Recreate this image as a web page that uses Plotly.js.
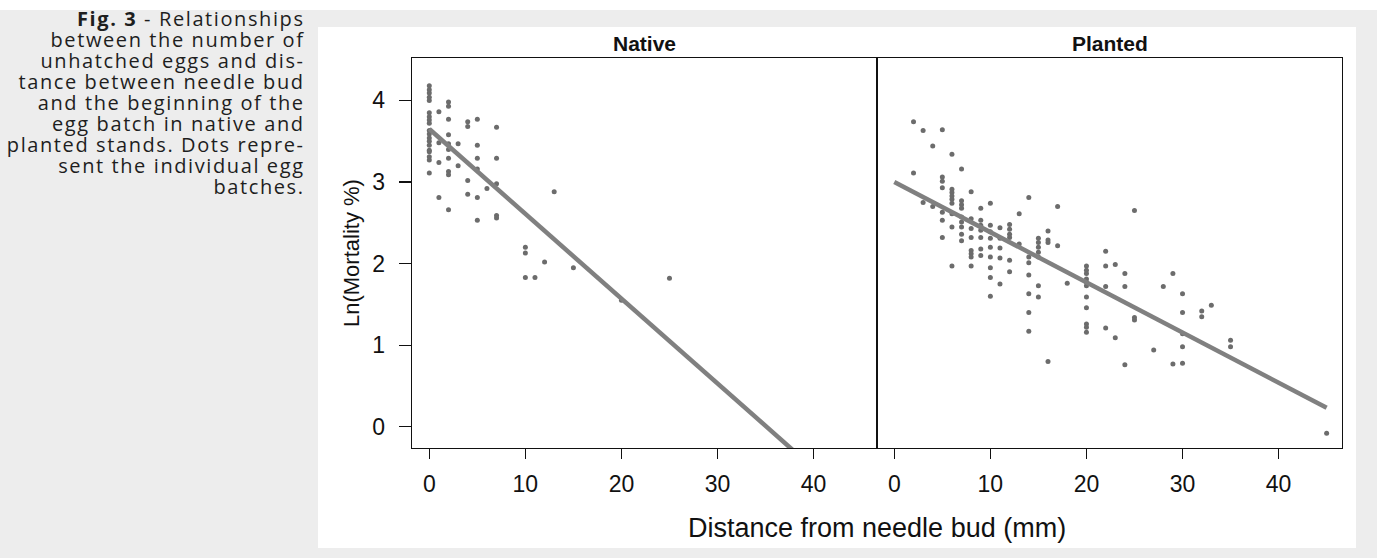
<!DOCTYPE html>
<html>
<head>
<meta charset="utf-8">
<script src="https://cdn.plot.ly/plotly-3.0.1.min.js"></script>
<style>
  html, body { margin: 0; padding: 0; }
  body { width: 1377px; height: 558px; background: #ededed; position: relative; overflow: hidden; }
  #topstrip { position: absolute; left: 0; top: 0; width: 1377px; height: 10px; background: #ffffff; }
  #caption { position: absolute; left: 0; top: 8px; width: 303px; text-align: right;
             font-family: "Open Sans", sans-serif; font-size: 20px; line-height: 21px;
             letter-spacing: 1.6px; color: #1e1e1e; }
  #caption .l { display: block; white-space: nowrap; margin-right: -1.6px; }
  #card { position: absolute; left: 318px; top: 27px; width: 1038px; height: 521px; background: #ffffff; }
  #chart { width: 1038px; height: 521px; }
</style>
</head>
<body>
<div id="topstrip"></div>
<div id="caption"><span class="l"><b>Fig. 3</b> - Relationships</span><span class="l">between the number of</span><span class="l">unhatched eggs and dis-</span><span class="l">tance between needle bud</span><span class="l">and the beginning of the</span><span class="l">egg batch in native and</span><span class="l">planted stands. Dots repre-</span><span class="l">sent the individual egg</span><span class="l">batches.</span></div>
<div id="card"><div id="chart"></div></div>
<script>
// ---- data ----
const panelNames = ["Native", "Planted"];
const xTicks = [0, 10, 20, 30, 40];
const yTicks = [0, 1, 2, 3, 4];

const nativeX = [
  0,0,0,0,0,0,0,0,0,0,0,0,0,0,0,0,0,0,0,
  1,1,1,1,
  2,2,2,2,2,2,2,2,2,2,
  3,3,
  4,4,4,4,
  5,5,5,5,5,5,
  6,
  7,7,7,7,7,
  10,10,10,
  11,12,13,15,20,25
];
const nativeY = [
  4.18,4.13,4.09,4.04,4.00,3.85,3.80,3.76,3.72,3.63,3.59,3.54,3.50,3.45,3.39,3.37,3.31,3.27,3.11,
  3.86,3.48,3.24,2.81,
  3.98,3.93,3.77,3.58,3.47,3.40,3.29,3.13,3.09,2.66,
  3.47,3.20,
  3.74,3.68,3.02,2.85,
  3.77,3.45,3.29,3.16,2.81,2.53,
  2.92,
  3.67,3.29,2.98,2.59,2.56,
  2.20,2.13,1.83,
  1.83,2.02,2.88,1.95,1.55,1.82
];

const plantedX = [
  2,2, 3,3, 4,4,
  5,5,5,5,5,5,5,
  6,6,6,6,6,6,6,6,6,
  7,7,7,7,7,7,7,7,7,
  8,8,8,8,8,8,8,8,
  9,9,9,9,9,9,9,
  10,10,10,10,10,10,10,10,10,
  11,11,11,11,11,
  12,12,12,12,12,12,
  13,13,
  14,14,14,14,14,14,14,
  15,15,15,15,15,15,15,
  16,16,16,16,
  17,17, 18,
  20,20,20,20,20,20,20,20,20,20,20,
  22,22,22,22,
  23,23,
  24,24,24,
  25,25,25,
  27, 28, 29,29,
  30,30,30,30,30,
  32,32, 33, 35,35, 45
];
const plantedY = [
  3.74,3.11, 3.63,2.75, 3.44,2.70,
  3.64,3.06,3.01,2.93,2.63,2.53,2.32,
  3.34,2.91,2.87,2.83,2.79,2.74,2.61,2.45,1.97,
  3.16,2.77,2.72,2.68,2.57,2.51,2.45,2.36,2.28,
  2.88,2.55,2.43,2.32,2.16,2.12,2.08,1.97,
  2.68,2.53,2.47,2.41,2.32,2.18,2.10,
  2.74,2.47,2.39,2.31,2.20,2.08,1.95,1.83,1.60,
  2.44,2.31,2.19,2.07,1.75,
  2.48,2.42,2.36,2.32,2.04,1.90,
  2.61,2.24,
  2.81,2.08,2.01,1.86,1.63,1.40,1.17,
  2.31,2.26,2.20,2.14,2.08,1.73,1.59,
  2.40,2.29,2.26,0.80,
  2.70,2.22, 1.76,
  1.97,1.92,1.88,1.81,1.77,1.73,1.59,1.46,1.26,1.22,1.16,
  2.15,1.97,1.72,1.21,
  1.99,1.09,
  1.88,1.72,0.76,
  2.65,1.34,1.31,
  0.94, 1.72, 1.88,0.77,
  1.63,1.40,1.14,0.98,0.78,
  1.42,1.35, 1.49, 1.06,0.98, -0.08
];

// fitted lines (intercept, slope, x-extent)
const nativeFit  = { intercept: 3.65, slope: -0.104, xFrom: 0, xTo: 45 };
const plantedFit = { intercept: 3.00, slope: -0.0615, xFrom: 0, xTo: 45 };

function fitLine(f) {
  return { x: [f.xFrom, f.xTo], y: [f.intercept + f.slope * f.xFrom, f.intercept + f.slope * f.xTo] };
}

const dotColor = "rgb(108,108,108)";
const lineColor = "rgb(128,128,128)";
const nl = fitLine(nativeFit), pl = fitLine(plantedFit);

const traces = [
  { x: nativeX, y: nativeY, xaxis: "x", yaxis: "y", type: "scatter", mode: "markers",
    marker: { color: dotColor, size: 5 }, showlegend: false, cliponaxis: true },
  { x: nl.x, y: nl.y, xaxis: "x", yaxis: "y", type: "scatter", mode: "lines",
    line: { color: lineColor, width: 4.5 }, showlegend: false },
  { x: plantedX, y: plantedY, xaxis: "x2", yaxis: "y2", type: "scatter", mode: "markers",
    marker: { color: dotColor, size: 5 }, showlegend: false, cliponaxis: true },
  { x: pl.x, y: pl.y, xaxis: "x2", yaxis: "y2", type: "scatter", mode: "lines",
    line: { color: lineColor, width: 4.5 }, showlegend: false }
];

const font = "Liberation Sans, Arial, sans-serif";
const xCommon = {
  range: [-1.8, 46.6], tickvals: xTicks, ticktext: xTicks.map(String),
  ticks: "outside", ticklen: 10, tickwidth: 1.3, tickcolor: "#111",
  ticklabelstandoff: 5,
  showline: true, mirror: true, linecolor: "#111", linewidth: 1.3,
  showgrid: false, zeroline: false, fixedrange: true,
  tickfont: { family: font, size: 23, color: "#111" }
};
const yCommon = {
  range: [-0.26, 4.52], tickvals: yTicks, ticktext: yTicks.map(String),
  showline: true, mirror: true, linecolor: "#111", linewidth: 1.3,
  showgrid: false, zeroline: false, fixedrange: true,
  tickfont: { family: font, size: 23, color: "#111" }
};

const layout = {
  width: 1038, height: 521,
  margin: { l: 94, r: 14, t: 31, b: 100, pad: 0 },
  paper_bgcolor: "#ffffff", plot_bgcolor: "#ffffff",
  showlegend: false,
  xaxis: Object.assign({}, xCommon, { domain: [0, 0.5], anchor: "y" }),
  xaxis2: Object.assign({}, xCommon, { domain: [0.5, 1], anchor: "y2" }),
  yaxis: Object.assign({}, yCommon, { domain: [0, 1], anchor: "x",
    ticks: "outside", ticklen: 12, tickwidth: 1.3, tickcolor: "#111", ticklabelstandoff: 9 }),
  yaxis2: Object.assign({}, yCommon, { domain: [0, 1], anchor: "x2", ticks: "", showticklabels: false }),
  annotations: [
    { text: "<b>" + panelNames[0] + "</b>", xref: "x domain", yref: "paper", x: 0.5, y: 1,
      xanchor: "center", yanchor: "bottom", yshift: 1, showarrow: false,
      font: { family: font, size: 21, color: "#111" } },
    { text: "<b>" + panelNames[1] + "</b>", xref: "x2 domain", yref: "paper", x: 0.5, y: 1,
      xanchor: "center", yanchor: "bottom", yshift: 1, showarrow: false,
      font: { family: font, size: 21, color: "#111" } },
    { text: "Distance from needle bud (mm)", xref: "paper", yref: "paper", x: 0.5, y: 0,
      xanchor: "center", yanchor: "middle", yshift: -80, showarrow: false,
      font: { family: font, size: 27, color: "#111" } },
    { text: "Ln(Mortality %)", xref: "paper", yref: "paper", x: 0, y: 0.5,
      xanchor: "center", yanchor: "middle", xshift: -61, textangle: -90, showarrow: false,
      font: { family: font, size: 22, color: "#111" } }
  ]
};

Plotly.newPlot("chart", traces, layout, { displayModeBar: false, staticPlot: true });
</script>
</body>
</html>
